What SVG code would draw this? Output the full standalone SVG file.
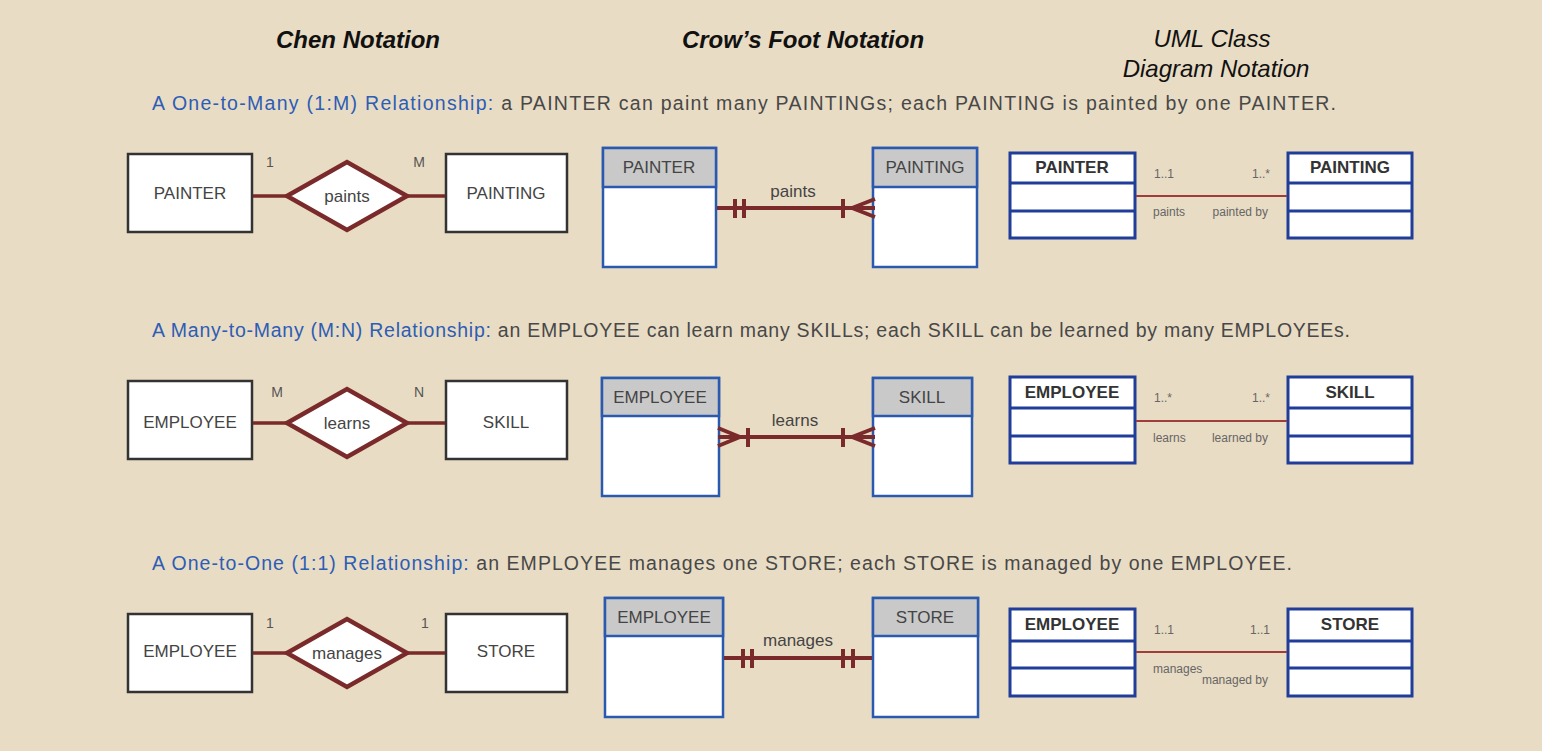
<svg xmlns="http://www.w3.org/2000/svg" width="1542" height="751" viewBox="0 0 1542 751">
<style>
text{font-family:"Liberation Sans",Arial,sans-serif;fill:#444}
.title{font-size:24px;font-style:italic;fill:#111}
.tb{font-weight:bold}
.cap{font-size:19.5px;fill:#484848}
.blue{fill:#2d5db5}
.lbl{font-size:17px;text-anchor:middle}
.card{font-size:14px;fill:#555}
.ent{fill:#fff;stroke:#333;stroke-width:2.5}
.rel{fill:#fff;stroke:#7a2a2a;stroke-width:4.5;stroke-linejoin:miter}
.cl{stroke:#7a2a2a;stroke-width:3.5;fill:none}
.cf{fill:#fff;stroke:#2a5ab0;stroke-width:2.5}
.cfh{fill:#c9c9c9;stroke:#2a5ab0;stroke-width:2.5}
.cw{stroke:#7a2a2a;stroke-width:4;fill:none}
.um{fill:#fff;stroke:#1f3d99;stroke-width:3}
.uh{font-size:17px;font-weight:bold;text-anchor:middle;fill:#333}
.ul{stroke:#a03c3c;stroke-width:2}
.us{font-size:12px;fill:#666}
.ue{font-size:12px;fill:#666;text-anchor:end}
</style>
<rect width="1542" height="751" fill="#e9dcc4"/>
<g id="titles">
<text class="title tb" x="358" y="48" text-anchor="middle">Chen Notation</text>
<text class="title tb" x="803" y="48" text-anchor="middle">Crow’s Foot Notation</text>
<text class="title" x="1212" y="47" text-anchor="middle">UML Class</text>
<text class="title" x="1216" y="77" text-anchor="middle">Diagram Notation</text>
</g>
<g id="captions">
<text class="cap" x="152" y="110" textLength="1184" lengthAdjust="spacing"><tspan class="blue">A One-to-Many (1:M) Relationship:</tspan> a PAINTER can paint many PAINTINGs; each PAINTING is painted by one PAINTER.</text>
<text class="cap" x="152" y="337" textLength="1198" lengthAdjust="spacing"><tspan class="blue">A Many-to-Many (M:N) Relationship:</tspan> an EMPLOYEE can learn many SKILLs; each SKILL can be learned by many EMPLOYEEs.</text>
<text class="cap" x="152" y="570" textLength="1140" lengthAdjust="spacing"><tspan class="blue">A One-to-One (1:1) Relationship:</tspan> an EMPLOYEE manages one STORE; each STORE is managed by one EMPLOYEE.</text>
</g>
<g id="chen-1">
<g id="chen-painter"><rect class="ent" x="128" y="154" width="124" height="78"/><text class="lbl" x="190" y="199">PAINTER</text></g>
<g id="chen-paints"><polygon class="rel" points="287,196 347,162 407,196 347,230"/><text class="lbl" x="347" y="202">paints</text></g>
<g id="chen-painting"><rect class="ent" x="446" y="154" width="121" height="78"/><text class="lbl" x="506" y="199">PAINTING</text></g>
<text class="card" x="270" y="167" text-anchor="middle">1</text>
<text class="card" x="419" y="167" text-anchor="middle">M</text>
</g>
<g id="chen-2">
<g id="chen-employee"><rect class="ent" x="128" y="381" width="124" height="78"/><text class="lbl" x="190" y="428">EMPLOYEE</text></g>
<g id="chen-learns"><polygon class="rel" points="287,423 347,389 407,423 347,457"/><text class="lbl" x="347" y="429">learns</text></g>
<g id="chen-skill"><rect class="ent" x="446" y="381" width="121" height="78"/><text class="lbl" x="506" y="428">SKILL</text></g>
<text class="card" x="277" y="397" text-anchor="middle">M</text>
<text class="card" x="419" y="397" text-anchor="middle">N</text>
</g>
<g id="chen-3">
<g id="chen-employee2"><rect class="ent" x="128" y="614" width="124" height="78"/><text class="lbl" x="190" y="657">EMPLOYEE</text></g>
<g id="chen-manages"><polygon class="rel" points="287,653 347,619 407,653 347,687"/><text class="lbl" x="347" y="659">manages</text></g>
<g id="chen-store"><rect class="ent" x="446" y="614" width="121" height="78"/><text class="lbl" x="506" y="657">STORE</text></g>
<text class="card" x="270" y="628" text-anchor="middle">1</text>
<text class="card" x="425" y="628" text-anchor="middle">1</text>
</g>
<g id="cf-painter"><rect class="cf" x="603" y="148" width="113" height="119"/><rect class="cfh" x="603" y="148" width="113" height="39"/><text class="lbl" x="659" y="173">PAINTER</text></g>
<g id="cf-painting"><rect class="cf" x="873" y="148" width="104" height="119"/><rect class="cfh" x="873" y="148" width="104" height="39"/><text class="lbl" x="925" y="173">PAINTING</text></g>
<text class="lbl" x="793" y="197">paints</text>
<g id="cf-employee"><rect class="cf" x="602" y="378" width="117" height="118"/><rect class="cfh" x="602" y="378" width="117" height="38"/><text class="lbl" x="660" y="403">EMPLOYEE</text></g>
<g id="cf-skill"><rect class="cf" x="873" y="378" width="99" height="118"/><rect class="cfh" x="873" y="378" width="99" height="38"/><text class="lbl" x="922" y="403">SKILL</text></g>
<text class="lbl" x="795" y="426">learns</text>
<g id="cf-employee2"><rect class="cf" x="605" y="598" width="118" height="119"/><rect class="cfh" x="605" y="598" width="118" height="38"/><text class="lbl" x="664" y="623">EMPLOYEE</text></g>
<g id="cf-store"><rect class="cf" x="873" y="598" width="105" height="119"/><rect class="cfh" x="873" y="598" width="105" height="38"/><text class="lbl" x="925" y="623">STORE</text></g>
<text class="lbl" x="798" y="646">manages</text>
<g id="uml-painter"><rect class="um" x="1010" y="153" width="125" height="85"/><path class="um" d="M1010 183H1135M1010 211H1135"/><text class="uh" x="1072" y="173">PAINTER</text></g>
<g id="uml-painting"><rect class="um" x="1288" y="153" width="124" height="85"/><path class="um" d="M1288 183H1412M1288 211H1412"/><text class="uh" x="1350" y="173">PAINTING</text></g>
<text class="us" x="1154" y="178">1..1</text><text class="ue" x="1270" y="178">1..*</text>
<text class="us" x="1153" y="216">paints</text><text class="ue" x="1268" y="216">painted by</text>
<g id="uml-employee"><rect class="um" x="1010" y="377" width="125" height="86"/><path class="um" d="M1010 408H1135M1010 436H1135"/><text class="uh" x="1072" y="398">EMPLOYEE</text></g>
<g id="uml-skill"><rect class="um" x="1288" y="377" width="124" height="86"/><path class="um" d="M1288 408H1412M1288 436H1412"/><text class="uh" x="1350" y="398">SKILL</text></g>
<text class="us" x="1154" y="402">1..*</text><text class="ue" x="1270" y="402">1..*</text>
<text class="us" x="1153" y="442">learns</text><text class="ue" x="1268" y="442">learned by</text>
<g id="uml-employee2"><rect class="um" x="1010" y="609" width="125" height="87"/><path class="um" d="M1010 641H1135M1010 668H1135"/><text class="uh" x="1072" y="630">EMPLOYEE</text></g>
<g id="uml-store"><rect class="um" x="1288" y="609" width="124" height="87"/><path class="um" d="M1288 641H1412M1288 668H1412"/><text class="uh" x="1350" y="630">STORE</text></g>
<text class="us" x="1154" y="634">1..1</text><text class="ue" x="1270" y="634">1..1</text>
<text class="us" x="1153" y="673">manages</text><text class="ue" x="1268" y="684">managed by</text>
<g id="connectors">
<line class="cl" x1="253" y1="196" x2="290" y2="196"/>
<line class="cl" x1="404" y1="196" x2="445" y2="196"/>
<line class="cl" x1="253" y1="423" x2="290" y2="423"/>
<line class="cl" x1="404" y1="423" x2="445" y2="423"/>
<line class="cl" x1="253" y1="653" x2="290" y2="653"/>
<line class="cl" x1="404" y1="653" x2="445" y2="653"/>
<path class="cw" d="M717 208H874M735 199V218M744 199V218M843 199V218M852 208L875 199M852 208H875M852 208L875 217"/>
<path class="cw" d="M720 437H872M740 437L718 428M740 437H718M740 437L718 446M748 428V447M843 428V447M852 437L875 428M852 437H875M852 437L875 446"/>
<path class="cw" d="M724 658H872M743 649V668M752 649V668M843 649V668M853 649V668"/>
<line class="ul" x1="1136" y1="196" x2="1287" y2="196"/>
<line class="ul" x1="1136" y1="421" x2="1287" y2="421"/>
<line class="ul" x1="1136" y1="652" x2="1287" y2="652"/>
</g>
</svg>
